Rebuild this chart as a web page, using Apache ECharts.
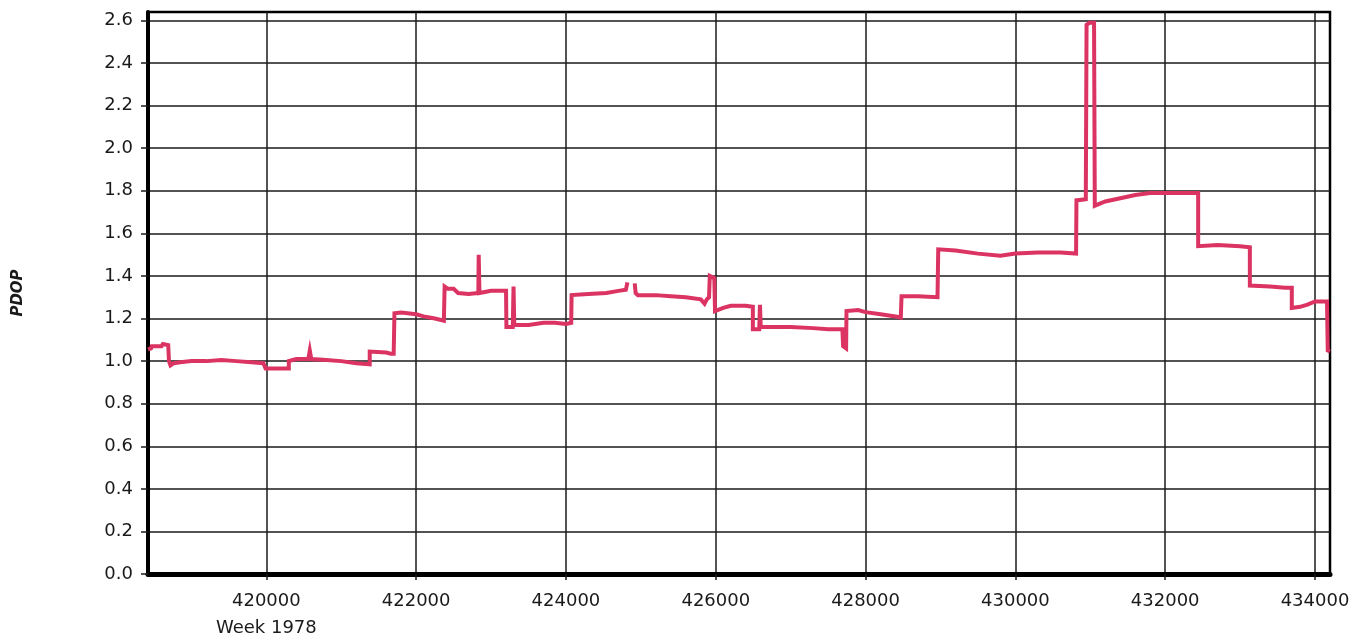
<!DOCTYPE html>
<html>
<head>
<meta charset="utf-8">
<script src="https://cdn.jsdelivr.net/npm/echarts@6/dist/echarts.min.js"></script>
<style>
html,body{margin:0;padding:0;background:#fff;}
#chart{width:1364px;height:642px;}
</style>
</head>
<body>
<div id="chart"></div>
<script>
// GPS seconds of week (Week 1978)
var weekSeconds = [
  418420, 418460, 418470, 418600, 418620, 418690, 418700, 418720, 418760, 418850,
  419000, 419200, 419400, 419600, 419800, 419960, 419990, 420300, 420300, 420400,
  420560, 420580, 420600, 420800, 421000, 421200, 421380, 421380, 421600, 421660,
  421700, 421710, 421800, 422000, 422100, 422250, 422370, 422380, 422420, 422500,
  422560, 422700, 422830, 422835, 422845, 423000, 423200, 423205, 423290, 423300,
  423310, 423500, 423700, 423850, 424000, 424070, 424075, 424300, 424540, 424700,
  424800, 424820, 424860, 424918, 424930, 424960, 425200, 425400, 425600, 425800,
  425850, 425880, 425910, 425920, 425980, 425990, 426100, 426200, 426400, 426495,
  426495, 426580, 426590, 426600, 426800, 427000, 427300, 427500, 427690, 427700,
  427740, 427745, 427900, 428000, 428200, 428400, 428470, 428480, 428700, 428960,
  428970, 429200, 429500, 429800, 430000, 430300, 430600, 430810, 430815, 430940,
  430950, 430990, 431050, 431060, 431200, 431400, 431600, 431800, 432000, 432440,
  432440, 432700, 433000, 433130, 433130, 433400, 433600, 433690, 433690, 433800,
  433900, 434000, 434160, 434170, 434200
];
var pdop = [
  1.055, 1.06, 1.07, 1.07, 1.08, 1.075, 1.0, 0.98, 0.99, 0.995,
  1.0, 1.0, 1.005, 1.0, 0.995, 0.99, 0.965, 0.965, 1.0, 1.01,
  1.01, 1.05, 1.01, 1.005, 1.0, 0.99, 0.985, 1.045, 1.04, 1.035,
  1.035, 1.225, 1.228, 1.22, 1.21, 1.2, 1.19, 1.35, 1.34, 1.34,
  1.32, 1.315, 1.32, 1.5, 1.32, 1.33, 1.33, 1.16, 1.16, 1.35,
  1.17, 1.17, 1.18, 1.18, 1.175, 1.18, 1.31, 1.315, 1.32, 1.33,
  1.335, 1.37, null, 1.365, 1.32, 1.31, 1.31, 1.305, 1.3, 1.29,
  1.27, 1.29, 1.3, 1.4, 1.39, 1.235, 1.25, 1.26, 1.26, 1.255,
  1.15, 1.15, 1.265, 1.16, 1.16, 1.16, 1.155, 1.15, 1.15, 1.07,
  1.06, 1.235, 1.24, 1.23, 1.22, 1.21, 1.205, 1.305, 1.305, 1.3,
  1.525, 1.52, 1.505, 1.495, 1.505, 1.51, 1.51, 1.505, 1.755, 1.76,
  2.58, 2.59, 2.59, 1.73, 1.75, 1.765, 1.78, 1.79, 1.79, 1.79,
  1.54, 1.545, 1.54, 1.535, 1.355, 1.35, 1.345, 1.345, 1.25, 1.255,
  1.265, 1.28, 1.28, 1.05, 1.045
];
var xTicks = [420000, 422000, 424000, 426000, 428000, 430000, 432000, 434000];
var yTicks = [0, 0.2, 0.4, 0.6, 0.8, 1.0, 1.2, 1.4, 1.6, 1.8, 2.0, 2.2, 2.4, 2.6];
var weekLabel = 'Week 1978';
var yName = 'PDOP';

var seriesData = weekSeconds.map(function (x, i) { return [x, pdop[i]]; });

var chart = echarts.init(document.getElementById('chart'), null, {renderer: 'canvas'});
var textFont = 'DejaVu Sans';
chart.setOption({
  animation: false,
  backgroundColor: '#ffffff',
  grid: {
    left: 148, right: 34, top: 12, bottom: 67,
    show: true, borderColor: '#000', borderWidth: 2.5, backgroundColor: 'transparent'
  },
  xAxis: {
    type: 'value',
    min: 418420, max: 434200,
    axisLine: {show: true, lineStyle: {color: '#000', width: 5}},
    axisTick: {show: true, length: 6, customValues: xTicks, lineStyle: {color: '#1a1a1a', width: 1.5}},
    axisLabel: {
      customValues: xTicks,
      margin: 14,
      color: '#1a1a1a',
      fontFamily: textFont,
      fontSize: 18,
      lineHeight: 27,
      formatter: function (v) {
        return v === xTicks[0] ? String(v) + '\n' + weekLabel : String(v);
      }
    },
    splitLine: {show: true, lineStyle: {color: '#1a1a1a', width: 1.5}}
  },
  yAxis: {
    type: 'value',
    min: 0, max: 2.64,
    name: yName,
    nameLocation: 'middle',
    nameGap: 122,
    nameTextStyle: {fontFamily: textFont, fontSize: 15, fontWeight: 'bold', fontStyle: 'italic', color: '#1a1a1a'},
    axisLine: {show: true, lineStyle: {color: '#000', width: 4}},
    axisTick: {show: true, length: 7, customValues: yTicks, lineStyle: {color: '#1a1a1a', width: 1.5}},
    axisLabel: {
      customValues: yTicks,
      margin: 15,
      color: '#1a1a1a',
      fontFamily: textFont,
      fontSize: 18,
      formatter: function (v) { return v.toFixed(1); }
    },
    splitLine: {show: true, lineStyle: {color: '#1a1a1a', width: 1.5}}
  },
  series: [{
    type: 'line',
    data: seriesData,
    showSymbol: false,
    connectNulls: false,
    clip: true,
    lineStyle: {color: '#DB3362', width: 4, join: 'miter'},
    z: 3
  }]
});
</script>
</body>
</html>
